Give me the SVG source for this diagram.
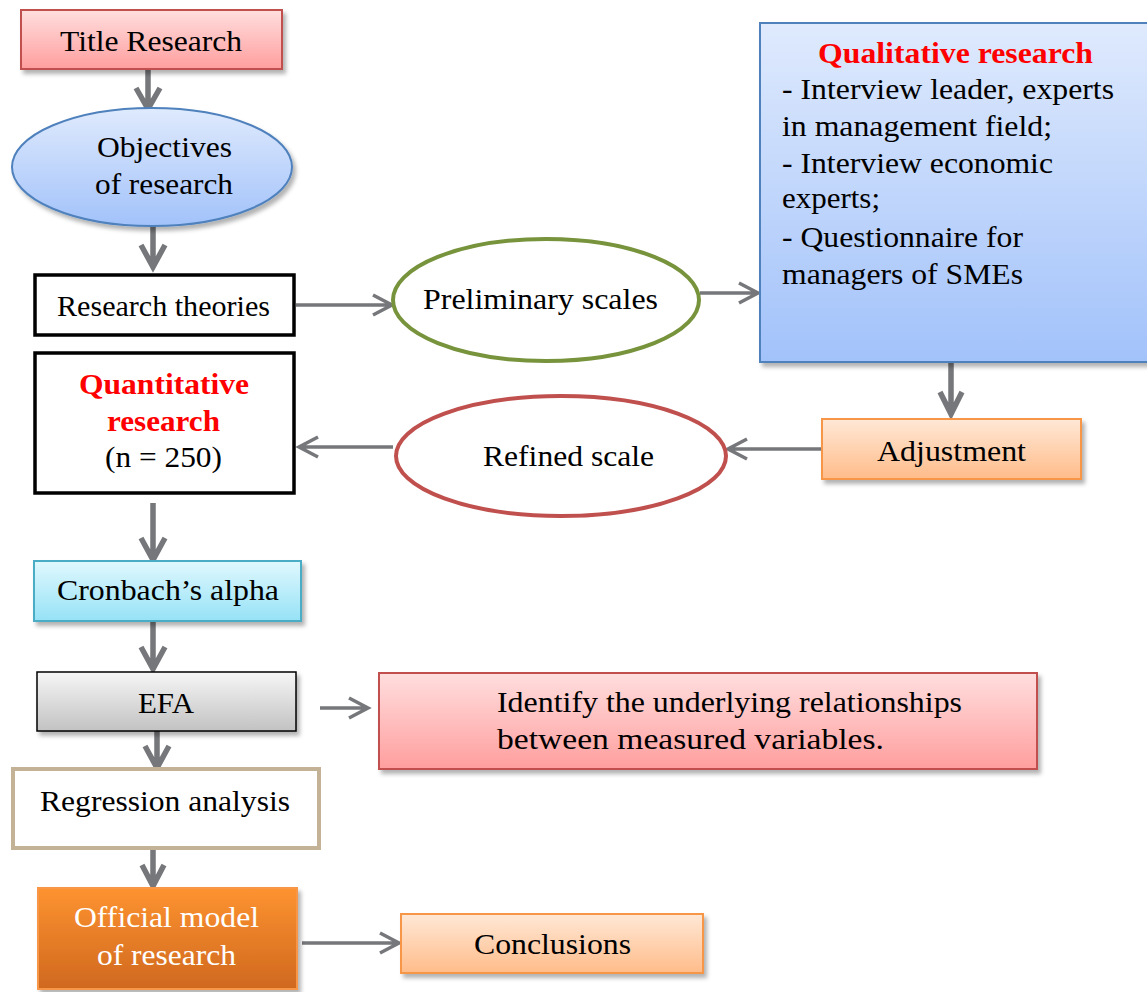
<svg xmlns="http://www.w3.org/2000/svg" width="1147" height="992" viewBox="0 0 1147 992">
<defs>
<linearGradient id="gPink" x1="0" y1="0" x2="0" y2="1"><stop offset="0" stop-color="#ffdede"/><stop offset="1" stop-color="#ff9e9e"/></linearGradient>
<linearGradient id="gBlue" x1="0" y1="0" x2="0" y2="1"><stop offset="0" stop-color="#dfeafd"/><stop offset="1" stop-color="#a2c2fa"/></linearGradient>
<linearGradient id="gLOrange" x1="0" y1="0" x2="0" y2="1"><stop offset="0" stop-color="#ffe8d6"/><stop offset="1" stop-color="#ffbc8a"/></linearGradient>
<linearGradient id="gCyan" x1="0" y1="0" x2="0" y2="1"><stop offset="0" stop-color="#e0f8fe"/><stop offset="1" stop-color="#96e2f6"/></linearGradient>
<linearGradient id="gGray" x1="0" y1="0" x2="0" y2="1"><stop offset="0" stop-color="#f6f6f6"/><stop offset="1" stop-color="#c2c2c2"/></linearGradient>
<linearGradient id="gDOrange" x1="0" y1="0" x2="0" y2="1"><stop offset="0" stop-color="#fd9330"/><stop offset="1" stop-color="#d0681f"/></linearGradient>
<filter id="sh" x="-10%" y="-10%" width="125%" height="135%"><feDropShadow dx="3" dy="4" stdDeviation="2" flood-color="#000" flood-opacity="0.3"/></filter>
</defs>
<style>
.t{font-family:"Times New Roman","Liberation Serif",Tinos,"Nimbus Roman","Nimbus Roman No9 L",FreeSerif,Times,serif;font-size:30px;fill:#000}
.b{font-weight:bold;fill:#ff0000}
.w{fill:#ffffff}
.con path{fill:none;stroke:#76777a;stroke-linejoin:miter;stroke-linecap:butt}
.thick{stroke-width:5.5}
.thin{stroke-width:3.5}
</style>
<rect width="1147" height="992" fill="#ffffff"/>

<g id="connectors" class="con">
<path class="thick" d="M148,69 V108 M136,88 L148,109 L160,88"/>
<path class="thick" d="M153,226 V266 M141,245 L153,267 L165,245"/>
<path class="thin" d="M296,305 H391 M373,295 L392,305 L373,315"/>
<path class="thin" d="M700,293 H757 M739,283 L758,293 L739,303"/>
<path class="thick" d="M951,362 V413 M940,392 L951,414 L962,392"/>
<path class="thin" d="M822,449 H729 M747,439 L728,449 L747,459"/>
<path class="thin" d="M393,447 H300 M318,437 L299,447 L318,457"/>
<path class="thick" d="M153,503 V559 M141,538 L153,560 L165,538"/>
<path class="thick" d="M153,621 V668 M141,647 L153,669 L165,647"/>
<path class="thin" d="M320,708 H366 M349,698 L368,708 L349,718"/>
<path class="thick" d="M157,731 V767 M145,746 L157,768 L169,746"/>
<path class="thick" d="M153,848 V885 M142,865 L153,886 L164,865"/>
<path class="thin" d="M302,943 H398 M380,933 L399,943 L380,953"/>
</g>

<g id="title">
<rect x="21" y="10" width="261" height="59" fill="url(#gPink)" stroke="#c0504d" stroke-width="2" filter="url(#sh)"/>
<text class="t" x="60" y="51" font-size="31" textLength="182" lengthAdjust="spacingAndGlyphs">Title Research</text>
</g>

<g id="objectives">
<ellipse cx="152" cy="167" rx="140" ry="59" fill="url(#gBlue)" stroke="#4f81bd" stroke-width="2" filter="url(#sh)"/>
<text class="t" x="97" y="157" textLength="135" lengthAdjust="spacingAndGlyphs">Objectives</text>
<text class="t" x="95" y="194" textLength="138" lengthAdjust="spacingAndGlyphs">of research</text>
</g>

<g id="theories">
<rect x="35" y="275" width="259" height="60" fill="#ffffff" stroke="#000" stroke-width="3.5"/>
<text class="t" x="57" y="316" textLength="213" lengthAdjust="spacingAndGlyphs">Research theories</text>
</g>

<g id="quantitative">
<rect x="35" y="353" width="259" height="140" fill="#ffffff" stroke="#000" stroke-width="3.5"/>
<text class="t b" x="79" y="394" font-size="31" textLength="170" lengthAdjust="spacingAndGlyphs">Quantitative</text>
<text class="t b" x="107" y="431" font-size="31" textLength="113" lengthAdjust="spacingAndGlyphs">research</text>
<text class="t" x="105" y="467" textLength="117" lengthAdjust="spacingAndGlyphs">(n = 250)</text>
</g>

<g id="preliminary">
<ellipse cx="546" cy="300" rx="153" ry="61" fill="#ffffff" stroke="#77933c" stroke-width="4"/>
<text class="t" x="423" y="309" textLength="235" lengthAdjust="spacingAndGlyphs">Preliminary scales</text>
</g>

<g id="qualitative">
<rect x="760" y="23" width="400" height="339" fill="url(#gBlue)" stroke="#4f81bd" stroke-width="2" filter="url(#sh)"/>
<text class="t b" x="818" y="63" font-size="31" textLength="275" lengthAdjust="spacingAndGlyphs">Qualitative research</text>
<text class="t" x="782" y="99" font-size="31" textLength="332" lengthAdjust="spacingAndGlyphs">- Interview leader, experts</text>
<text class="t" x="782" y="136" font-size="31" textLength="270" lengthAdjust="spacingAndGlyphs">in management field;</text>
<text class="t" x="782" y="173" font-size="31" textLength="271" lengthAdjust="spacingAndGlyphs">- Interview economic</text>
<text class="t" x="782" y="208" font-size="31" textLength="98" lengthAdjust="spacingAndGlyphs">experts;</text>
<text class="t" x="782" y="247" font-size="31" textLength="241" lengthAdjust="spacingAndGlyphs">- Questionnaire for</text>
<text class="t" x="782" y="284" font-size="31" textLength="241" lengthAdjust="spacingAndGlyphs">managers of SMEs</text>
</g>

<g id="adjustment">
<rect x="822" y="419" width="259" height="60" fill="url(#gLOrange)" stroke="#f79646" stroke-width="2" filter="url(#sh)"/>
<text class="t" x="877" y="461" textLength="149" lengthAdjust="spacingAndGlyphs">Adjustment</text>
</g>

<g id="refined">
<ellipse cx="561" cy="456" rx="165" ry="60" fill="#ffffff" stroke="#c0504d" stroke-width="4"/>
<text class="t" x="483" y="466" textLength="171" lengthAdjust="spacingAndGlyphs">Refined scale</text>
</g>

<g id="cronbach">
<rect x="34" y="561" width="267" height="60" fill="url(#gCyan)" stroke="#4bacc6" stroke-width="2" filter="url(#sh)"/>
<text class="t" x="57" y="600" textLength="222" lengthAdjust="spacingAndGlyphs">Cronbach’s alpha</text>
</g>

<g id="efa">
<rect x="37" y="672" width="259" height="59" fill="url(#gGray)" stroke="#000" stroke-width="1.5" filter="url(#sh)"/>
<text class="t" x="138" y="713" textLength="56" lengthAdjust="spacingAndGlyphs">EFA</text>
</g>

<g id="identify">
<rect x="379" y="673" width="658" height="96" fill="url(#gPink)" stroke="#c0504d" stroke-width="2" filter="url(#sh)"/>
<text class="t" x="497" y="712" textLength="465" lengthAdjust="spacingAndGlyphs">Identify the underlying relationships</text>
<text class="t" x="497" y="749" textLength="387" lengthAdjust="spacingAndGlyphs">between measured variables.</text>
</g>

<g id="regression">
<rect x="13" y="769" width="306" height="79" fill="#ffffff" stroke="#c4b296" stroke-width="4"/>
<text class="t" x="40" y="811" textLength="250" lengthAdjust="spacingAndGlyphs">Regression analysis</text>
</g>

<g id="official">
<rect x="38" y="888" width="259" height="101" fill="url(#gDOrange)" stroke="#f79646" stroke-width="2" filter="url(#sh)"/>
<text class="t w" x="74" y="927" textLength="185" lengthAdjust="spacingAndGlyphs">Official model</text>
<text class="t w" x="97" y="965" textLength="139" lengthAdjust="spacingAndGlyphs">of research</text>
</g>

<g id="conclusions">
<rect x="401" y="914" width="302" height="59" fill="url(#gLOrange)" stroke="#f79646" stroke-width="2" filter="url(#sh)"/>
<text class="t" x="474" y="954" textLength="157" lengthAdjust="spacingAndGlyphs">Conclusions</text>
</g>
</svg>
